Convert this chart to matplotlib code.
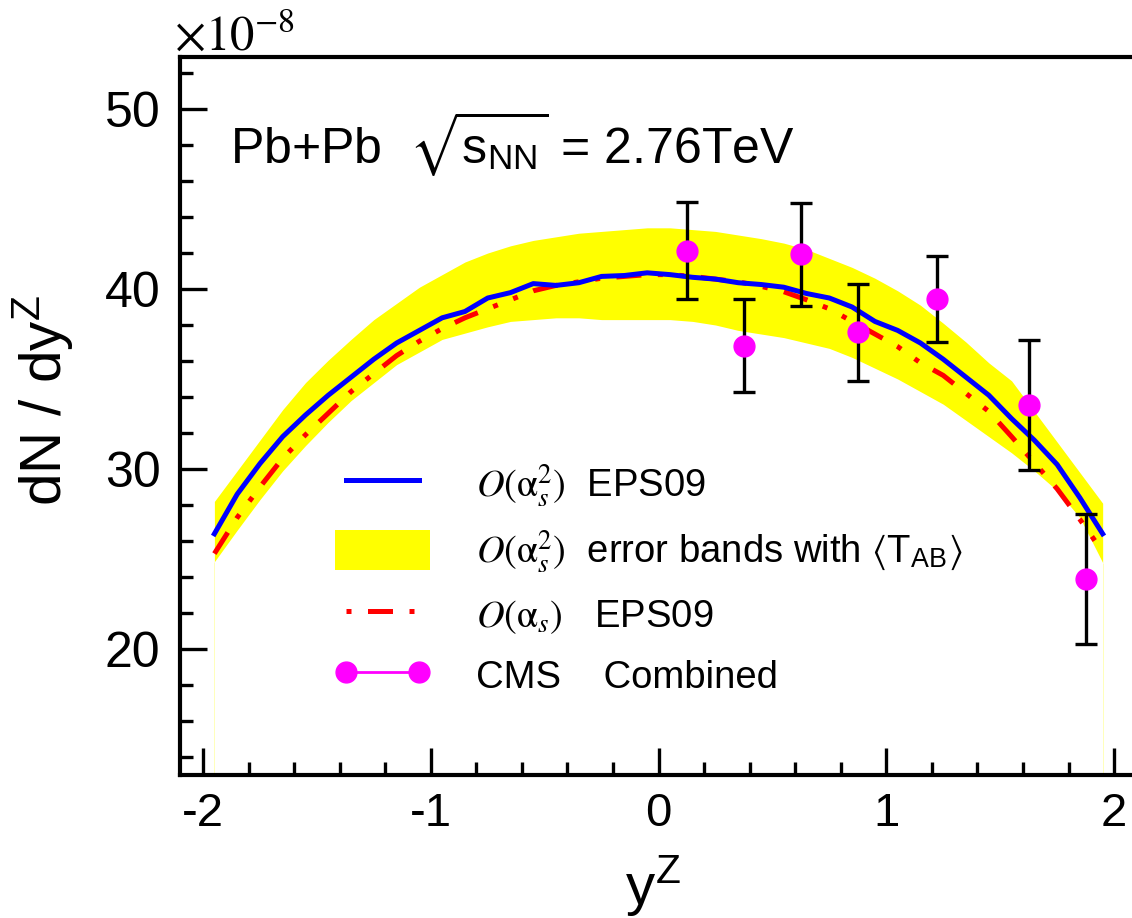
import numpy as np
import matplotlib
matplotlib.use("Agg")
import matplotlib.pyplot as plt
from matplotlib.lines import Line2D
from matplotlib.patches import Patch
from matplotlib.ticker import MultipleLocator

plt.rcParams['font.family'] = ['Liberation Sans', 'DejaVu Sans']
plt.rcParams['mathtext.fontset'] = 'stix'

# ---------------- data (units of 1e-8) ----------------
y_theory = [-1.95, -1.85, -1.75, -1.65, -1.55, -1.45, -1.35, -1.25, -1.15, -1.05,
            -0.95, -0.85, -0.75, -0.65, -0.55, -0.45, -0.35, -0.25, -0.15, -0.05,
            0.05, 0.15, 0.25, 0.35, 0.45, 0.55, 0.65, 0.75, 0.85, 0.95,
            1.05, 1.15, 1.25, 1.35, 1.45, 1.55, 1.65, 1.75, 1.85, 1.95]

nlo_eps09 = [26.4, 28.6, 30.3, 31.8, 33.0, 34.1, 35.1, 36.1, 37.0, 37.7,
             38.4, 38.75, 39.5, 39.8, 40.3, 40.2, 40.35, 40.7, 40.75, 40.9,
             40.8, 40.65, 40.55, 40.35, 40.25, 40.1, 39.75, 39.5, 39.0, 38.2,
             37.7, 37.0, 36.1, 35.1, 34.1, 32.8, 31.6, 30.25, 28.4, 26.4]

lo_eps09 = [25.3, 27.3, 29.0, 30.6, 31.9, 33.1, 34.3, 35.3, 36.3, 37.1,
            37.8, 38.4, 38.9, 39.4, 39.9, 40.2, 40.4, 40.6, 40.7, 40.8,
            40.8, 40.7, 40.55, 40.4, 40.15, 39.85, 39.4, 38.9, 38.2, 37.5,
            36.8, 35.9, 35.2, 34.2, 33.2, 31.8, 30.35, 28.9, 27.2, 25.4]

band_hi = [28.2, 29.9, 31.6, 33.3, 34.8, 36.05, 37.2, 38.3, 39.2, 40.1,
           40.8, 41.5, 42.0, 42.4, 42.7, 42.9, 43.1, 43.2, 43.3, 43.4,
           43.4, 43.3, 43.2, 43.0, 42.8, 42.55, 42.2, 41.7, 41.2, 40.6,
           39.9, 39.1, 38.1, 37.05, 35.9, 34.9, 33.2, 31.5, 29.8, 28.1]

band_lo = [24.85, 26.6, 28.3, 29.9, 31.3, 32.6, 33.8, 34.8, 35.8, 36.5,
           37.2, 37.55, 37.9, 38.2, 38.3, 38.4, 38.4, 38.3, 38.3, 38.3,
           38.3, 38.2, 38.0, 37.7, 37.5, 37.3, 37.0, 36.7, 36.2, 35.6,
           35.0, 34.3, 33.6, 32.7, 31.8, 30.9, 29.9, 28.8, 27.3, 24.8]

cms_y = [0.127, 0.377, 0.626, 0.875, 1.221, 1.628, 1.877]
cms_val = [42.13, 36.85, 41.94, 37.6, 39.43, 33.56, 23.9]
cms_err = [2.68, 2.58, 2.86, 2.7, 2.4, 3.6, 3.6]

xticks = [-2, -1, 0, 1, 2]
yticks = [20, 30, 40, 50]

# ---------------- figure ----------------
fig = plt.figure(figsize=(11.32, 9.18), dpi=100)
ax = fig.add_axes([180/1132, 1 - 775/918, 950/1132, 718/918])

ax.fill_between(y_theory, band_lo, band_hi, color='#ffff00', lw=0, zorder=1)
ax.vlines([y_theory[0], y_theory[-1]], 13.0, [band_lo[0], band_lo[-1]],
          color='#ffff60', lw=0.6, alpha=0.5, zorder=1)
ax.plot(y_theory, nlo_eps09, color='#0000ff', lw=3.6, zorder=3,
        solid_joinstyle='round')
ax.plot(y_theory, lo_eps09, color='#ff0000', lw=3.6, zorder=2,
        linestyle=(0, (5.0, 3.3, 1.0, 3.3, 1.0, 3.3)))
ax.errorbar(cms_y, cms_val, yerr=cms_err, fmt='none', ecolor='black',
            elinewidth=2.4, capsize=8, capthick=2.4, zorder=4)
ax.plot(cms_y, cms_val, 'o', color='#ff00ff', ms=15, mec='#ff00ff', zorder=5)

ax.set_xlim(-2.101, 2.070)
ax.set_ylim(13.0, 52.89)
ax.set_xticks(xticks)
ax.set_yticks(yticks)
ax.set_xticklabels([str(t) for t in xticks])
ax.xaxis.set_minor_locator(MultipleLocator(0.2))
ax.yaxis.set_minor_locator(MultipleLocator(2))
ax.tick_params(which='both', direction='in', width=2.4, top=False, right=False)
ax.tick_params(which='major', length=19.5)
ax.tick_params(which='minor', length=9.5)
ax.tick_params(axis='y', labelsize=36, pad=14)
ax.tick_params(axis='x', labelsize=34, pad=12)
ax.spines['right'].set_visible(False)
for s in ['left', 'bottom', 'top']:
    ax.spines[s].set_linewidth(3.0)

fig.text(174/1132, 1 - 50/918, r'$\times10^{-8}$', fontsize=35, ha='left', va='baseline')

ax.text(0.0526, 0.852, r'Pb+Pb  $\sqrt{\mathregular{s}_{\mathregular{NN}}}$ = 2.76TeV',
        transform=ax.transAxes, fontsize=36, ha='left', va='baseline')

fig.text(44/1132, 1 - 400/918, r'dN / dy$^\mathregular{Z}$', fontsize=42,
         rotation=90, ha='center', va='center')
fig.text(653/1132, 1 - 887/918, r'y$^\mathregular{Z}$', fontsize=42,
         ha='center', va='center')

handles = [
    Line2D([], [], color='#0000ff', lw=3.6),
    Patch(facecolor='#ffff00', edgecolor='none'),
    Line2D([], [], color='#ff0000', lw=3.6, linestyle=(0, (1.0, 3.3, 5.0, 3.3, 1.0, 3.3))),
    Line2D([], [], color='#ff00ff', lw=2, marker='o', ms=15),
]
labels = [
    r'$O(\mathrm{\alpha}_s^2)$  EPS09',
    r'$O(\mathrm{\alpha}_s^2)$  error bands with $\langle$T$_\mathregular{AB}\rangle$',
    r'$O(\mathrm{\alpha}_s)$   EPS09',
    r'CMS    Combined',
]
leg = ax.legend(handles, labels, loc='upper left',
                bbox_to_anchor=((335 - 180) / 950, (775 - 462) / 718),
                frameon=False, fontsize=27.5, handlelength=2.5, handleheight=1.25,
                handletextpad=1.2, labelspacing=0.5, borderpad=0, borderaxespad=0,
                numpoints=2)

fig.savefig('out.png', dpi=100)
